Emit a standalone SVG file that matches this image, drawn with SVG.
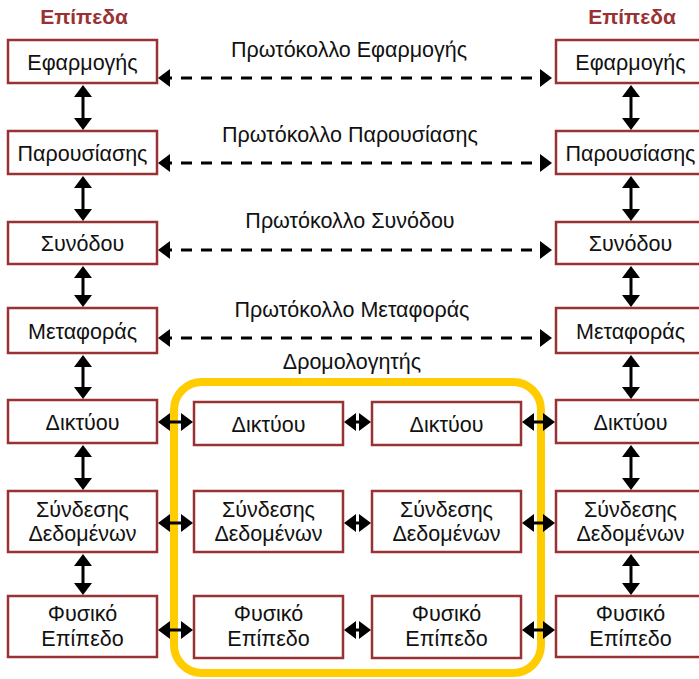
<svg xmlns="http://www.w3.org/2000/svg" width="699" height="679" viewBox="0 0 699 679">
<style>
.box{fill:#fff;stroke:#993333;stroke-width:2.5}
.t{font-family:"Liberation Sans",Arial,sans-serif;font-size:21.5px;fill:#111;text-anchor:middle}
.h{font-family:"Liberation Sans",Arial,sans-serif;font-size:21px;font-weight:bold;fill:#993333;text-anchor:middle}
.a{stroke:#000;stroke-width:3;fill:none;marker-start:url(#ah);marker-end:url(#ah)}
.d{stroke:#000;stroke-width:3;fill:none;stroke-dasharray:11 9;marker-start:url(#ah);marker-end:url(#ah)}
</style>
<defs>
<marker id="ah" markerUnits="userSpaceOnUse" markerWidth="12" markerHeight="18" viewBox="0 0 12 18" refX="9" refY="9" orient="auto-start-reverse">
<path d="M0,0 L12,9 L0,18 Z" fill="#000"/>
</marker>
</defs>
<rect x="174" y="382" width="367" height="291" rx="28" fill="none" stroke="#FFCC00" stroke-width="8"/>
<text class="h" x="84" y="24">Επίπεδα</text>
<text class="h" x="632" y="24">Επίπεδα</text>
<g id="labels">
<text class="t" x="349" y="57">Πρωτόκολλο Εφαρμογής</text>
<text class="t" x="350" y="142">Πρωτόκολλο Παρουσίασης</text>
<text class="t" x="350" y="228">Πρωτόκολλο Συνόδου</text>
<text class="t" x="352" y="317">Πρωτόκολλο Μεταφοράς</text>
<text class="t" x="352" y="369">Δρομολογητής</text>
</g>
<g id="L1"><rect class="box" x="8" y="40" width="149" height="43"/><text class="t" x="82.5" y="70">Εφαρμογής</text></g>
<g id="L2"><rect class="box" x="8" y="131" width="149" height="43"/><text class="t" x="82.5" y="161">Παρουσίασης</text></g>
<g id="L3"><rect class="box" x="8" y="222" width="149" height="42"/><text class="t" x="82.5" y="251">Συνόδου</text></g>
<g id="L4"><rect class="box" x="8" y="308" width="149" height="45"/><text class="t" x="82.5" y="339">Μεταφοράς</text></g>
<g id="L5"><rect class="box" x="8" y="400" width="149" height="43"/><text class="t" x="82.5" y="430">Δικτύου</text></g>
<g id="L6"><rect class="box" x="8" y="491" width="149" height="61"/><text class="t" x="82.5" y="517">Σύνδεσης</text><text class="t" x="82.5" y="541">Δεδομένων</text></g>
<g id="L7"><rect class="box" x="8" y="596" width="149" height="61"/><text class="t" x="82.5" y="621">Φυσικό</text><text class="t" x="82.5" y="646">Επίπεδο</text></g>
<g id="R1"><rect class="box" x="556" y="40" width="149" height="43"/><text class="t" x="630.5" y="70">Εφαρμογής</text></g>
<g id="R2"><rect class="box" x="556" y="131" width="149" height="43"/><text class="t" x="630.5" y="161">Παρουσίασης</text></g>
<g id="R3"><rect class="box" x="556" y="222" width="149" height="42"/><text class="t" x="630.5" y="251">Συνόδου</text></g>
<g id="R4"><rect class="box" x="556" y="308" width="149" height="45"/><text class="t" x="630.5" y="339">Μεταφοράς</text></g>
<g id="R5"><rect class="box" x="556" y="400" width="149" height="43"/><text class="t" x="630.5" y="430">Δικτύου</text></g>
<g id="R6"><rect class="box" x="556" y="491" width="149" height="61"/><text class="t" x="630.5" y="517">Σύνδεσης</text><text class="t" x="630.5" y="541">Δεδομένων</text></g>
<g id="R7"><rect class="box" x="556" y="596" width="149" height="61"/><text class="t" x="630.5" y="621">Φυσικό</text><text class="t" x="630.5" y="646">Επίπεδο</text></g>
<g id="M1"><rect class="box" x="194" y="402" width="149" height="43"/><text class="t" x="268.5" y="432">Δικτύου</text></g>
<g id="M2"><rect class="box" x="372" y="402" width="149" height="43"/><text class="t" x="446.5" y="432">Δικτύου</text></g>
<g id="M3"><rect class="box" x="194" y="491" width="149" height="61"/><text class="t" x="268.5" y="517">Σύνδεσης</text><text class="t" x="268.5" y="541">Δεδομένων</text></g>
<g id="M4"><rect class="box" x="372" y="491" width="149" height="61"/><text class="t" x="446.5" y="517">Σύνδεσης</text><text class="t" x="446.5" y="541">Δεδομένων</text></g>
<g id="M5"><rect class="box" x="194" y="596" width="149" height="62"/><text class="t" x="268.5" y="621">Φυσικό</text><text class="t" x="268.5" y="646">Επίπεδο</text></g>
<g id="M6"><rect class="box" x="372" y="596" width="149" height="62"/><text class="t" x="446.5" y="621">Φυσικό</text><text class="t" x="446.5" y="646">Επίπεδο</text></g>
<g id="connectors">
<line class="d" x1="161" y1="78" x2="549" y2="78"/>
<line class="d" x1="161" y1="163" x2="549" y2="163"/>
<line class="d" x1="161" y1="250" x2="549" y2="250"/>
<line class="d" x1="161" y1="338" x2="549" y2="338"/>
<line class="a" x1="83" y1="88" x2="83" y2="127"/>
<line class="a" x1="83" y1="179" x2="83" y2="218"/>
<line class="a" x1="83" y1="269" x2="83" y2="304"/>
<line class="a" x1="83" y1="358" x2="83" y2="396"/>
<line class="a" x1="83" y1="448" x2="83" y2="487"/>
<line class="a" x1="83" y1="557" x2="83" y2="592"/>
<line class="a" x1="631" y1="88" x2="631" y2="127"/>
<line class="a" x1="631" y1="179" x2="631" y2="218"/>
<line class="a" x1="631" y1="269" x2="631" y2="304"/>
<line class="a" x1="631" y1="358" x2="631" y2="396"/>
<line class="a" x1="631" y1="448" x2="631" y2="487"/>
<line class="a" x1="631" y1="557" x2="631" y2="592"/>
<line class="a" x1="161" y1="422" x2="190" y2="422"/>
<line class="a" x1="347" y1="422" x2="368" y2="422"/>
<line class="a" x1="525" y1="422" x2="552" y2="422"/>
<line class="a" x1="161" y1="523" x2="190" y2="523"/>
<line class="a" x1="347" y1="523" x2="368" y2="523"/>
<line class="a" x1="525" y1="523" x2="552" y2="523"/>
<line class="a" x1="161" y1="630" x2="190" y2="630"/>
<line class="a" x1="347" y1="630" x2="368" y2="630"/>
<line class="a" x1="525" y1="630" x2="552" y2="630"/>
</g>
</svg>
